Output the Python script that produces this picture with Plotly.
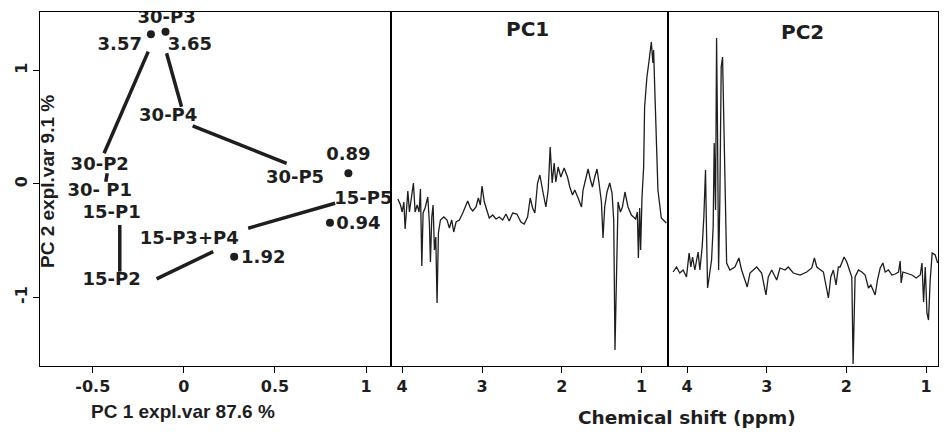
import plotly.graph_objects as go

# ---------------- Scores plot data ----------------
score_labels = ["3.57", "3.65", "0.89", "0.94", "1.92"]
score_pc1 = [-0.181, -0.101, 0.903, 0.802, 0.276]
score_pc2 = [1.319, 1.342, 0.094, -0.341, -0.641]

# trajectory segments between sample groups
seg_x0 = [-0.196, -0.095, 0.048, -0.421, -0.352, -0.150, 0.353]
seg_y0 = [1.166, 1.152, 0.511, 0.094, -0.361, -0.837, -0.390]
seg_x1 = [-0.438, -0.013, 0.564, -0.429, -0.352, 0.161, 0.830]
seg_y1 = [0.270, 0.681, 0.182, 0.020, -0.773, -0.596, -0.170]

# text labels
lab_text = ["30-P3", "3.57", "3.65", "30-P4", "30-P2", "30- P1", "15-P1", "15-P2",
            "15-P3+P4", "1.92", "30-P5", "0.89", "15-P5", "0.94"]
lab_x = [-0.095, -0.352, 0.033, -0.086, -0.462, -0.462, -0.397, -0.397,
         0.029, 0.436, 0.610, 0.903, 0.985, 0.958]
lab_y = [1.460, 1.216, 1.216, 0.593, 0.161, -0.068, -0.264, -0.852,
         -0.493, -0.655, 0.044, 0.247, -0.141, -0.361]

score_xticks = [-0.5, 0, 0.5, 1]
score_xticklabels = ["-0.5", "0", "0.5", "1"]
score_yticks = [-1, 0, 1]
score_yticklabels = ["-1", "0", "1"]

# ---------------- PC1 loadings ----------------
pc1_ppm = [4.054, 4.021, 4.000, 3.979, 3.963, 3.946, 3.929, 3.909, 3.888, 3.859,
           3.838, 3.813, 3.788, 3.771, 3.754, 3.738, 3.713, 3.679, 3.659, 3.646,
           3.629, 3.613, 3.596, 3.579, 3.563, 3.546, 3.521, 3.479, 3.438, 3.409,
           3.379, 3.354, 3.325, 3.284, 3.241, 3.213, 3.179, 3.146, 3.116, 3.075,
           3.046, 3.021, 3.000, 2.971, 2.938, 2.909, 2.866, 2.825, 2.784, 2.741,
           2.700, 2.659, 2.616, 2.563, 2.513, 2.471, 2.429, 2.396, 2.366, 2.338,
           2.304, 2.275, 2.241, 2.200, 2.171, 2.146, 2.121, 2.096, 2.075, 2.046,
           2.013, 1.984, 1.971, 1.929, 1.900, 1.866, 1.838, 1.796, 1.754, 1.734,
           1.700, 1.671, 1.641, 1.616, 1.588, 1.559, 1.534, 1.504, 1.484, 1.463,
           1.434, 1.400, 1.371, 1.350, 1.334, 1.316, 1.296, 1.266, 1.241, 1.209,
           1.171, 1.129, 1.075, 1.054, 1.041, 1.025, 1.013, 0.996, 0.975, 0.963,
           0.934, 0.909, 0.879, 0.859, 0.850, 0.838, 0.816, 0.796, 0.754, 0.691]
pc1_load = [0.001, -0.005, -0.012, -0.002, -0.029, -0.010, 0.009, -0.012, 0.000, 0.017,
            -0.012, -0.005, -0.012, 0.011, -0.066, -0.013, -0.008, 0.003, -0.023, -0.062,
            -0.017, -0.005, -0.050, -0.037, -0.103, -0.033, -0.020, -0.017, -0.020, -0.028,
            -0.020, -0.032, -0.022, -0.020, -0.013, -0.007, -0.001, -0.008, -0.011, -0.007,
            0.002, -0.005, 0.014, -0.002, -0.012, -0.018, -0.015, -0.019, -0.017, -0.020,
            -0.014, -0.021, -0.013, -0.014, -0.022, -0.024, -0.017, 0.002, -0.008, -0.013,
            0.017, 0.025, 0.010, -0.007, 0.010, 0.053, 0.017, 0.037, 0.018, 0.033,
            0.023, 0.028, 0.032, 0.023, 0.013, 0.005, 0.010, 0.002, -0.007, 0.010,
            0.023, 0.031, 0.020, 0.013, 0.023, 0.031, 0.017, -0.002, -0.038, -0.007,
            0.008, 0.017, 0.007, -0.020, -0.150, -0.067, -0.002, -0.012, -0.007, 0.008,
            -0.007, -0.015, -0.019, -0.012, -0.058, -0.008, -0.050, 0.002, 0.033, 0.093,
            0.123, 0.138, 0.158, 0.137, 0.150, 0.117, 0.047, 0.010, -0.018, -0.023]

# ---------------- PC2 loadings ----------------
pc2_ppm = [4.176, 4.133, 4.092, 4.050, 4.008, 3.975, 3.953, 3.932, 3.903, 3.862,
           3.840, 3.811, 3.790, 3.769, 3.756, 3.743, 3.723, 3.693, 3.673, 3.660,
           3.643, 3.630, 3.618, 3.605, 3.589, 3.572, 3.555, 3.538, 3.526, 3.504,
           3.463, 3.400, 3.350, 3.316, 3.245, 3.211, 3.127, 3.064, 3.010, 2.981,
           2.938, 2.875, 2.834, 2.771, 2.730, 2.667, 2.582, 2.498, 2.435, 2.402,
           2.372, 2.289, 2.226, 2.196, 2.164, 2.130, 2.101, 2.079, 2.029, 1.995,
           1.962, 1.932, 1.916, 1.891, 1.849, 1.806, 1.765, 1.723, 1.693, 1.660,
           1.639, 1.610, 1.576, 1.542, 1.513, 1.472, 1.429, 1.387, 1.346, 1.325,
           1.312, 1.291, 1.240, 1.177, 1.123, 1.073, 1.051, 1.031, 1.010, 0.989,
           0.969, 0.948, 0.923, 0.885, 0.855]
pc2_load = [0.000, 0.005, -0.001, 0.002, -0.005, 0.019, 0.005, 0.015, 0.002, 0.020,
            0.002, 0.025, 0.055, 0.102, 0.039, -0.016, -0.005, 0.012, 0.045, 0.129,
            0.062, 0.234, 0.139, 0.002, 0.072, 0.205, 0.215, 0.132, 0.102, 0.009,
            0.002, 0.005, 0.014, 0.002, -0.015, -0.001, 0.005, -0.001, -0.023, -0.005,
            0.002, -0.008, 0.004, 0.002, 0.005, -0.001, -0.003, 0.000, 0.004, 0.014,
            0.005, 0.000, -0.026, -0.005, 0.002, -0.013, 0.005, 0.005, 0.015, 0.010,
            0.002, -0.005, -0.092, -0.005, 0.002, 0.000, -0.003, -0.016, -0.013, -0.020,
            -0.023, -0.008, 0.004, 0.009, 0.000, 0.002, -0.003, -0.002, 0.000, 0.011,
            -0.011, 0.000, -0.001, -0.003, -0.006, -0.003, 0.009, -0.030, 0.005, -0.041,
            -0.048, -0.008, 0.019, 0.017, 0.009]

spec_ticks = [4, 3, 2, 1]
spec_ticklabels = ["4", "3", "2", "1"]

# ---------------- figure ----------------
W, H = 945, 432
INK = "#1e1e1e"
BOLD = "DejaVu Sans"

fig = go.Figure()

seg_x, seg_y = [], []
for a, b, c, d in zip(seg_x0, seg_y0, seg_x1, seg_y1):
    seg_x += [a, c, None]
    seg_y += [b, d, None]

fig.add_trace(go.Scatter(x=seg_x, y=seg_y, mode="lines",
                         line=dict(color=INK, width=3.5), xaxis="x", yaxis="y",
                         hoverinfo="skip", showlegend=False))
fig.add_trace(go.Scatter(x=score_pc1, y=score_pc2, mode="markers", text=score_labels,
                         marker=dict(color=INK, size=8), xaxis="x", yaxis="y",
                         showlegend=False))
fig.add_trace(go.Scatter(x=lab_x, y=lab_y, mode="text", text=lab_text,
                         textposition="middle center",
                         textfont=dict(family=BOLD, size=18, color=INK, weight="bold"),
                         xaxis="x", yaxis="y", hoverinfo="skip", showlegend=False))

fig.add_trace(go.Scatter(x=pc1_ppm, y=pc1_load, mode="lines",
                         line=dict(color=INK, width=1.3), xaxis="x2", yaxis="y2",
                         showlegend=False))
fig.add_trace(go.Scatter(x=pc2_ppm, y=pc2_load, mode="lines",
                         line=dict(color=INK, width=1.3), xaxis="x3", yaxis="y3",
                         showlegend=False))

ytop, ybot = 12, 366
ydom = [1 - ybot / H, 1 - ytop / H]
LW = 1.2

axis_common = dict(showline=True, linecolor="black", linewidth=LW, mirror=True,
                   showgrid=False, zeroline=False, ticks="outside", ticklen=6,
                   tickcolor="black", tickwidth=1.2,
                   tickfont=dict(family=BOLD, size=16, color=INK, weight="bold"))
spec_y = dict(showline=True, linecolor="black", linewidth=LW, mirror=True,
              showgrid=False, zeroline=False, showticklabels=False, ticks="")

fig.update_layout(
    width=W, height=H,
    margin=dict(l=0, r=0, t=0, b=0),
    paper_bgcolor="white", plot_bgcolor="white",
    xaxis=dict(domain=[40 / W, 391 / W], range=[-0.79, 1.137],
               tickvals=score_xticks, ticktext=score_xticklabels, anchor="y",
               **axis_common),
    yaxis=dict(domain=ydom, range=[-1.604, 1.515], tickvals=score_yticks,
               ticktext=score_yticklabels, tickangle=-90, anchor="x", **axis_common),
    xaxis2=dict(domain=[391 / W, 668 / W], range=[4.14, 0.67],
                tickvals=spec_ticks, ticktext=spec_ticklabels, anchor="y2",
                **axis_common),
    yaxis2=dict(domain=ydom, range=[-0.166, 0.188], anchor="x2", **spec_y),
    xaxis3=dict(domain=[668 / W, 938 / W], range=[4.24, 0.85],
                tickvals=spec_ticks, ticktext=spec_ticklabels, anchor="y3",
                **axis_common),
    yaxis3=dict(domain=ydom, range=[-0.094, 0.260], anchor="x3", **spec_y),
    annotations=[
        dict(text="PC 1 expl.var 87.6 %", x=183 / W, y=1 - 411 / H, xref="paper",
             yref="paper", showarrow=False, xanchor="center", yanchor="middle",
             font=dict(family="Liberation Sans", size=19, color=INK, weight="bold")),
        dict(text="PC 2 expl.var 9.1 %", x=47 / W, y=1 - 182 / H, xref="paper",
             yref="paper", showarrow=False, xanchor="center", yanchor="middle",
             textangle=-90,
             font=dict(family="Liberation Sans", size=19, color=INK, weight="bold")),
        dict(text="Chemical shift (ppm)", x=687 / W, y=1 - 417 / H, xref="paper",
             yref="paper", showarrow=False, xanchor="center", yanchor="middle",
             font=dict(family=BOLD, size=18.5, color=INK, weight="bold")),
        dict(text="PC1", x=527 / W, y=1 - 29 / H, xref="paper", yref="paper",
             showarrow=False, xanchor="center", yanchor="middle",
             font=dict(family=BOLD, size=20, color=INK, weight="bold")),
        dict(text="PC2", x=802 / W, y=1 - 32 / H, xref="paper", yref="paper",
             showarrow=False, xanchor="center", yanchor="middle",
             font=dict(family=BOLD, size=20, color=INK, weight="bold")),
    ],
)

fig.write_html("out.html",
               config={"displayModeBar": False},
               post_script="document.body.style.margin='0px';"
                           "document.body.style.overflow='hidden';")
